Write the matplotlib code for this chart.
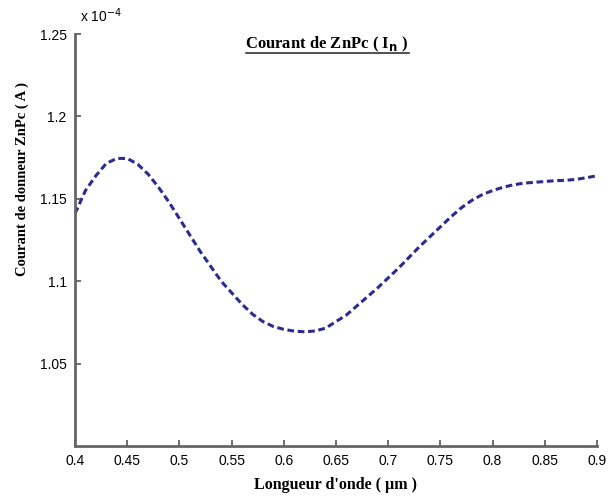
import numpy as np
import matplotlib.pyplot as plt
from matplotlib.lines import Line2D

# wavelength (um) and ZnPc donor current (x 1e-4 A)
wavelength = [0.40, 0.41, 0.42, 0.43, 0.44, 0.45, 0.46, 0.47, 0.48, 0.49,
              0.50, 0.51, 0.52, 0.53, 0.54, 0.55, 0.56, 0.57, 0.58, 0.59,
              0.60, 0.61, 0.62, 0.63, 0.64, 0.65, 0.66, 0.67, 0.68, 0.69,
              0.70, 0.71, 0.72, 0.73, 0.74, 0.75, 0.76, 0.77, 0.78, 0.79,
              0.80, 0.81, 0.82, 0.83, 0.84, 0.85, 0.86, 0.87, 0.88, 0.89, 0.90]
current = [1.141, 1.155, 1.164, 1.1715, 1.1745, 1.1745, 1.171, 1.165, 1.157, 1.148,
           1.138, 1.128, 1.118, 1.109, 1.100, 1.093, 1.086, 1.080, 1.0755, 1.0725,
           1.0708, 1.0697, 1.0693, 1.0698, 1.0715, 1.0755, 1.0795, 1.085, 1.0905, 1.096,
           1.102, 1.108, 1.1145, 1.121, 1.127, 1.133, 1.139, 1.1445, 1.149, 1.1525,
           1.155, 1.157, 1.1585, 1.1595, 1.160, 1.1605, 1.161, 1.1612, 1.1618, 1.1628, 1.164]

xticks = [0.4, 0.45, 0.5, 0.55, 0.6, 0.65, 0.7, 0.75, 0.8, 0.85, 0.9]
xtick_labels = ['0.4', '0.45', '0.5', '0.55', '0.6', '0.65', '0.7', '0.75', '0.8', '0.85', '0.9']
yticks = [1.05, 1.1, 1.15, 1.2, 1.25]
ytick_labels = ['1.05', '1.1', '1.15', '1.2', '1.25']

serif = ['Liberation Serif', 'DejaVu Serif']
sans = ['Liberation Sans', 'DejaVu Sans']

fig = plt.figure(figsize=(6.08, 4.97), dpi=100)
ax = fig.add_axes([75 / 608, 1 - 446 / 497, 522 / 608, 412 / 497])

ax.plot(wavelength, current, color='#2b2b90', linestyle=(0, (2.2, 1.2)), linewidth=2.2)

ax.set_xlim(0.4, 0.9)
ax.set_ylim(1.0, 1.25)
ax.set_xticks(xticks)
ax.set_xticklabels(xtick_labels, family=sans, fontsize=10)
ax.set_yticks(yticks)
ax.set_yticklabels(ytick_labels, family=sans, fontsize=10)
ax.tick_params(direction='in', length=4, width=1.2, color='#555555', pad=6)

for s in ['top', 'right']:
    ax.spines[s].set_visible(False)
for s in ['left', 'bottom']:
    ax.spines[s].set_color('#666666')
    ax.spines[s].set_linewidth(2)

ax.set_xlabel("Longueur d'onde ( µm )", family=serif, fontweight='bold', fontsize=11.5, labelpad=6)
fig.text(22 / 608, 1 - 179 / 497, "Courant de donneur ZnPc ( A )", family=serif,
         fontweight='bold', fontsize=10.5, rotation=90, ha='center', va='center')

# exponent label like matlab
fig.text(80 / 608, 1 - 16 / 497, r'x 10$^{-4}$', family=sans, fontsize=10, va='center')

# underlined title
fig.text(327 / 608, 1 - 44 / 497, r'Courant de ZnPc ( I$_{\mathbf{n}}$ )', family=serif,
         fontweight='bold', fontsize=12, ha='center', va='center')
fig.add_artist(Line2D([246 / 608, 409 / 608], [1 - 53 / 497, 1 - 53 / 497],
                      color='#333333', linewidth=1.2))

fig.savefig('out.png', dpi=100)
